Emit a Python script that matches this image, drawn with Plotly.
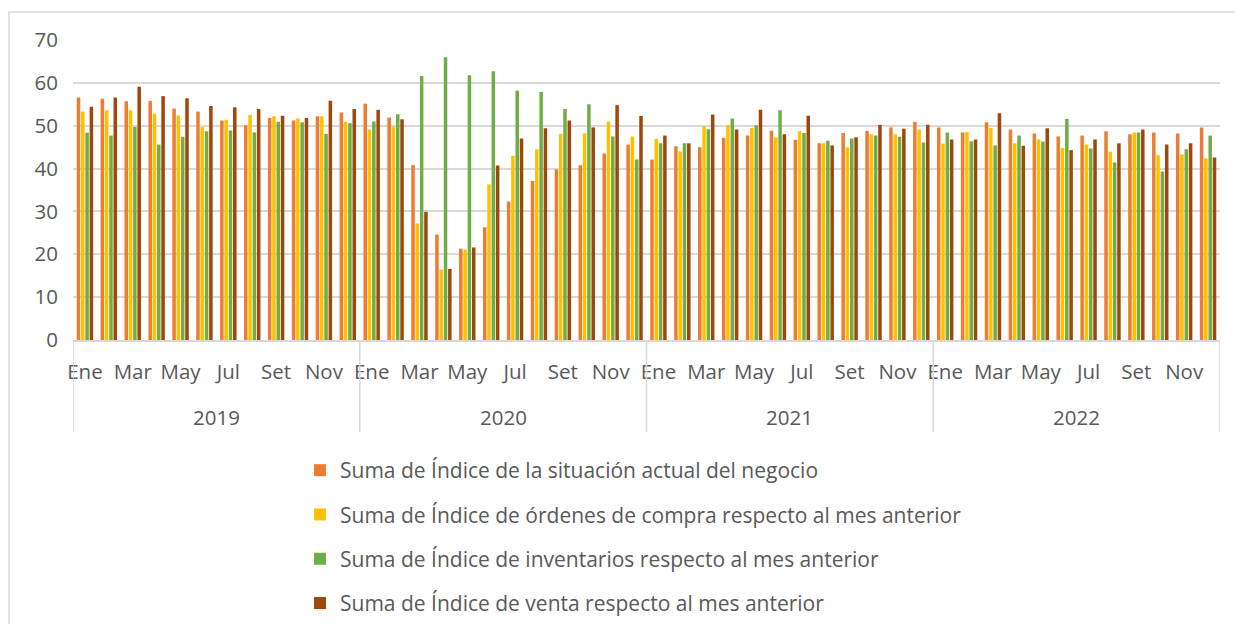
import plotly.graph_objects as go

years = ["2019", "2020", "2021", "2022"]
months = ["Ene", "Feb", "Mar", "Abr", "May", "Jun", "Jul", "Ago", "Set", "Oct", "Nov", "Dic"]
shown_months = ["Ene", "Mar", "May", "Jul", "Set", "Nov"]

series_names = [
    "Suma de Índice de la situación actual del negocio",
    "Suma de Índice de órdenes de compra respecto al mes anterior",
    "Suma de Índice de inventarios respecto al mes anterior",
    "Suma de Índice de venta respecto al mes anterior",
]
colors = ["#ED7D31", "#FFC000", "#70AD47", "#9E480E"]

situacion = [
    56.6, 56.3, 55.7, 55.8, 54.0, 53.3, 51.2, 50.1, 51.8, 51.2, 52.2, 53.1,
    55.1, 51.9, 40.8, 24.6, 21.3, 26.3, 32.3, 37.1, 39.8, 40.8, 43.5, 45.6,
    42.1, 45.2, 45.0, 47.2, 47.7, 48.8, 46.7, 45.9, 48.3, 48.8, 49.6, 50.9,
    49.6, 48.4, 50.8, 49.1, 48.2, 47.5, 47.7, 48.7, 48.0, 48.4, 48.2, 49.6,
]
ordenes = [
    53.3, 53.6, 53.6, 52.8, 52.4, 49.7, 51.4, 52.5, 52.2, 51.7, 52.2, 50.9,
    49.1, 49.8, 27.2, 16.4, 21.1, 36.3, 43.0, 44.5, 48.1, 48.2, 51.0, 47.5,
    46.9, 44.0, 49.8, 50.2, 49.5, 47.3, 48.7, 45.9, 44.9, 48.0, 48.0, 49.1,
    45.8, 48.5, 49.5, 45.9, 46.8, 44.8, 45.6, 43.9, 48.4, 43.1, 43.3, 42.4,
]
inventarios = [
    48.4, 47.7, 49.7, 45.6, 47.4, 48.7, 48.9, 48.4, 50.9, 50.8, 48.1, 50.6,
    51.0, 52.7, 61.6, 66.0, 61.8, 62.7, 58.2, 57.9, 53.9, 55.0, 47.5, 42.1,
    45.9, 45.9, 49.2, 51.7, 50.1, 53.6, 48.3, 46.5, 47.0, 47.7, 47.4, 46.1,
    48.4, 46.4, 45.4, 47.7, 46.3, 51.6, 44.7, 41.4, 48.4, 39.3, 44.5, 47.7,
]
venta = [
    54.4, 56.6, 59.1, 56.9, 56.4, 54.6, 54.3, 53.9, 52.3, 51.8, 55.8, 53.9,
    53.7, 51.5, 29.9, 16.6, 21.6, 40.7, 47.0, 49.4, 51.2, 49.6, 54.8, 52.3,
    47.7, 45.9, 52.6, 49.1, 53.7, 48.0, 52.3, 45.4, 47.3, 50.2, 49.3, 50.2,
    46.8, 46.8, 52.9, 45.3, 49.4, 44.3, 46.8, 45.9, 49.1, 45.6, 45.9, 42.6,
]
all_series = [situacion, ordenes, inventarios, venta]

n = len(years) * len(months)
x_idx = list(range(n))
hover_lbl = [f"{months[i % 12]} {years[i // 12]}" for i in x_idx]

font_family = "'Open Sans', Lato, sans-serif"
txt_color = "#595959"
grid_color = "#D9D9D9"
fsize = 20.5
lsize = 21

fig = go.Figure()
for k, (name, vals, col) in enumerate(zip(series_names, all_series, colors)):
    fig.add_trace(go.Bar(
        x=x_idx, y=vals, name=name, marker=dict(color=col, line=dict(width=0)),
        legendgroup=f"g{k}", customdata=hover_lbl,
        hovertemplate="%{customdata}: %{y}<extra>" + name + "</extra>",
    ))

tickvals = [i for i in x_idx if months[i % 12] in shown_months]
ticktext = [months[i % 12] for i in tickvals]

# page has an 8px body margin; figure coordinates are page coordinates minus OFF
OFF = 8
W, H = 1243 - 2 * OFF, 632 - 2 * OFF
ml, mt = 73 - OFF, 40 - OFF
mr = W - (1220 - OFF)
mb = H - (340 - OFF)
pw, ph = W - ml - mr, H - mt - mb

def px_x(px):
    return (px - OFF - ml) / pw

def px_y(py):
    return (H - mb - (py - OFF)) / ph

shapes = []
for j in range(len(years) + 1):
    xv = j * len(months) - 0.5
    shapes.append(dict(type="line", xref="x", yref="paper", x0=xv, x1=xv,
                       y0=0, y1=px_y(432), line=dict(color=grid_color, width=1.5)))
shapes.append(dict(type="rect", xref="paper", yref="paper",
                   x0=px_x(9), x1=px_x(1290), y0=px_y(680), y1=px_y(12),
                   line=dict(color=grid_color, width=1.5), layer="below"))

annotations = []
for j, yr in enumerate(years):
    annotations.append(dict(x=j * len(months) + (len(months) - 1) / 2, y=px_y(417),
                            xref="x", yref="paper", text=yr, showarrow=False,
                            font=dict(size=fsize, color=txt_color, family=font_family),
                            yanchor="middle"))

fig.update_layout(
    width=W, height=H,
    margin=dict(l=ml, r=mr, t=mt, b=mb, autoexpand=False),
    plot_bgcolor="white", paper_bgcolor="white",
    barmode="group", bargap=0.28, bargroupgap=0.18,
    font=dict(family=font_family, color=txt_color, size=fsize),
    xaxis=dict(range=[-0.5, n - 0.5], tickmode="array", tickvals=tickvals,
               ticktext=ticktext, showgrid=False, showline=True,
               linecolor=grid_color, linewidth=1.5, ticks="",
               ticklabelstandoff=13, tickfont=dict(size=fsize)),
    yaxis=dict(range=[0, 70], dtick=10, showgrid=True, gridcolor=grid_color,
               gridwidth=1.5, zeroline=False, showline=False, ticks="",
               ticklabelstandoff=14, tickfont=dict(size=fsize)),
    legend=dict(orientation="v", x=px_x(300), y=px_y(450), xanchor="left",
                yanchor="top", traceorder="grouped", tracegroupgap=14,
                font=dict(size=lsize, color=txt_color), itemwidth=30),
    shapes=shapes, annotations=annotations,
)

fig.write_html("out.html")
